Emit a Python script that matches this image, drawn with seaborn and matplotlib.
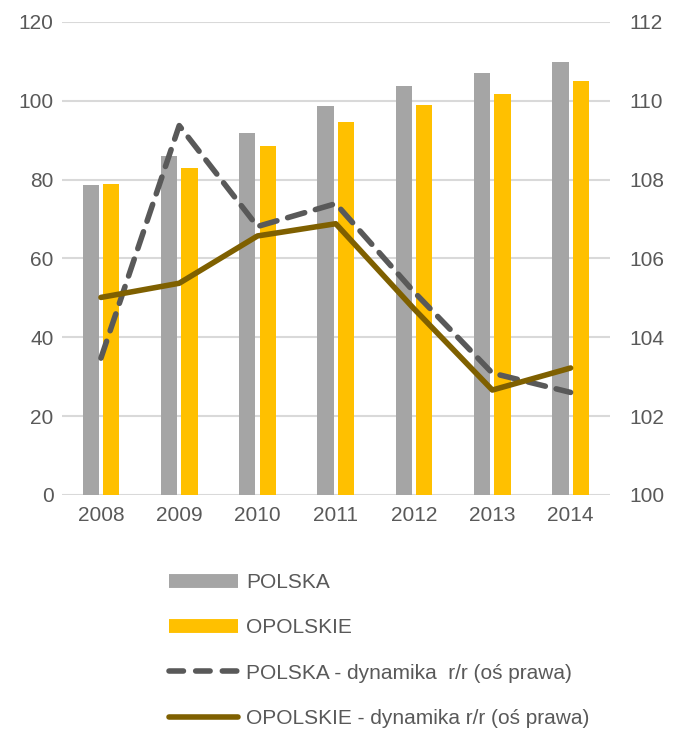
import pandas as pd
import matplotlib.pyplot as plt
import seaborn as sns
from matplotlib.lines import Line2D

# data
years = ['2008', '2009', '2010', '2011', '2012', '2013', '2014']
polska = [78.6, 86.0, 91.9, 98.7, 103.8, 107.0, 109.9]
opolskie = [78.9, 83.0, 88.4, 94.5, 99.0, 101.6, 104.9]
polska_dyn = [103.47, 109.37, 106.81, 107.39, 105.15, 103.09, 102.60]
opolskie_dyn = [105.01, 105.37, 106.57, 106.88, 104.72, 102.66, 103.22]

series_names = ['POLSKA', 'OPOLSKIE']
line_names = ['POLSKA - dynamika  r/r (oś prawa)', 'OPOLSKIE - dynamika r/r (oś prawa)']

GRAY = '#A5A5A5'
YELLOW = '#FFC000'
DARK = '#595959'
BROWN = '#7F6000'
GRID = '#D9D9D9'


def setup_style():
    sns.set_theme(style="white")
    plt.rcParams['font.family'] = ['Liberation Sans Narrow', 'Liberation Sans', 'DejaVu Sans']
    plt.rcParams['text.color'] = DARK
    plt.rcParams['xtick.color'] = DARK
    plt.rcParams['ytick.color'] = DARK


def main():
    setup_style()

    df = pd.DataFrame({
        'year': years * 2,
        'value': polska + opolskie,
        'series': [series_names[0]] * len(years) + [series_names[1]] * len(years),
    })
    dyn = pd.DataFrame({'year': years, 'pl': polska_dyn, 'op': opolskie_dyn})

    fig = plt.figure(figsize=(6.79, 7.31), dpi=100)
    ax = fig.add_axes([0.091, 0.323, 0.807, 0.647])

    sns.barplot(data=df, x='year', y='value', hue='series', order=years,
                palette=[GRAY, YELLOW], saturation=1, width=0.52, gap=0.2,
                linewidth=0, ax=ax, legend=False)
    ax.set_ylim(0, 120)
    ax.set_yticks(range(0, 121, 20))
    ax.set_xlabel('')
    ax.set_ylabel('')
    ax.grid(axis='y', color=GRID, linewidth=1.5)
    ax.set_axisbelow(True)
    for s in ax.spines.values():
        s.set_visible(False)
    ax.tick_params(axis='both', length=0, labelsize=15, pad=8)
    ax.tick_params(axis='y', pad=6)

    ax2 = ax.twinx()
    sns.lineplot(data=dyn, x='year', y='pl', color=DARK, linewidth=4,
                 linestyle=(0, (3.2, 2)), dash_capstyle='round', ax=ax2)
    sns.lineplot(data=dyn, x='year', y='op', color=BROWN, linewidth=4,
                 solid_capstyle='round', ax=ax2)
    ax2.set_ylim(100, 112)
    ax2.set_yticks(range(100, 113, 2))
    ax2.set_ylabel('')
    ax2.set_xlabel('')
    ax2.set_xlim(-0.5, len(years) - 0.5)
    ax2.grid(False)
    for s in ax2.spines.values():
        s.set_visible(False)
    ax2.tick_params(axis='y', length=0, labelsize=15, pad=14)

    handles = [
        Line2D([], [], color=GRAY, linewidth=10, solid_capstyle='butt'),
        Line2D([], [], color=YELLOW, linewidth=10, solid_capstyle='butt'),
        Line2D([], [], color=DARK, linewidth=4, linestyle=(0, (2.6, 2.2)), dash_capstyle='round'),
        Line2D([], [], color=BROWN, linewidth=4, solid_capstyle='round'),
    ]
    fig.legend(handles, series_names + line_names, loc='upper left',
               bbox_to_anchor=(0.249, 0.216), frameon=False, fontsize=15,
               handlelength=3.3, handletextpad=0.4, labelspacing=1.26,
               borderaxespad=0, borderpad=0)

    fig.savefig('out.png', dpi=100)
    plt.close(fig)


if __name__ == '__main__':
    main()
